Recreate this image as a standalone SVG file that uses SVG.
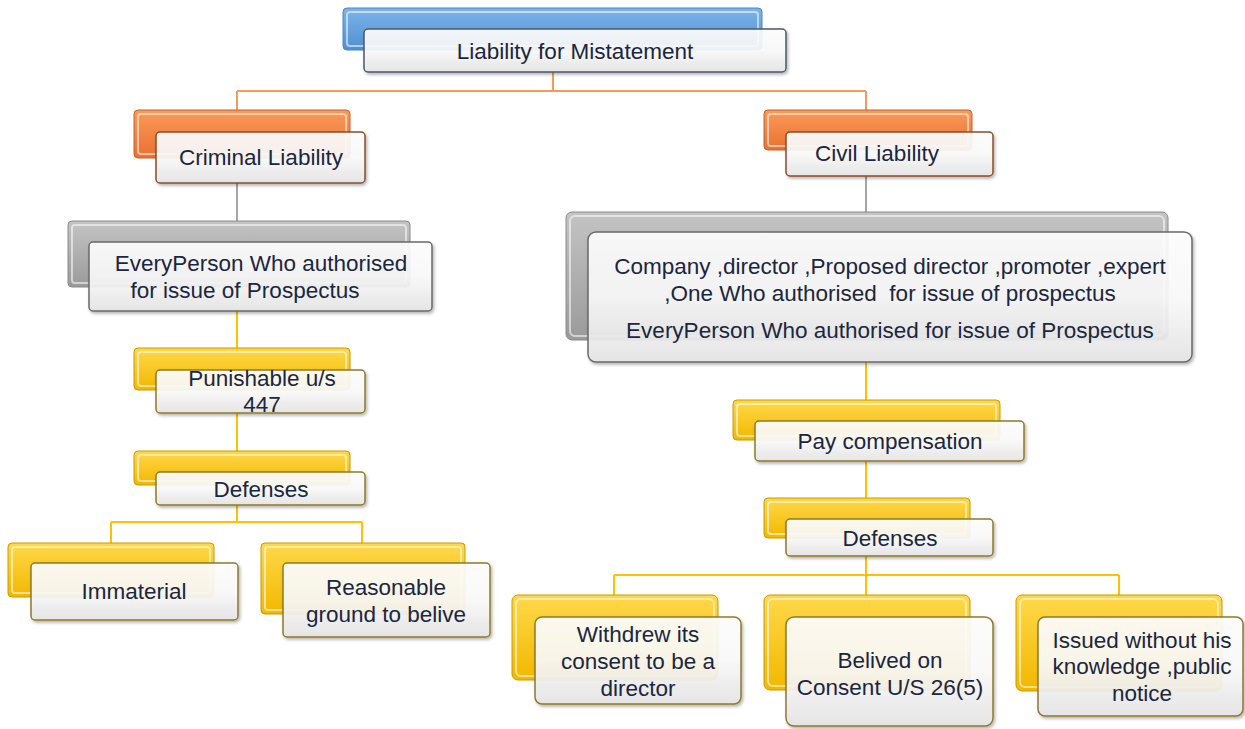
<svg xmlns="http://www.w3.org/2000/svg" width="1245" height="729" viewBox="0 0 1245 729">
<style>
  .t{font-family:"Liberation Sans",Arial,sans-serif;font-size:22.5px;fill:#1b2640;text-anchor:middle}
  .pre{white-space:pre}
  .front{fill:url(#gw);fill-opacity:0.9;stroke-width:1.5}
  .inner{fill:none;stroke:#ffffff;stroke-opacity:0.55;stroke-width:2}
  .cb{stroke:#f59a5a;stroke-width:2;fill:none}
  .cg{stroke:#a5a5a5;stroke-width:2;fill:none}
  .cy{stroke:#ffc000;stroke-width:2;fill:none}
  .blue{fill:url(#gb);stroke:#4f86c0}
  .orange{fill:url(#go);stroke:#c8602a}
  .gray{fill:url(#gg);stroke:#8a8a8a}
  .yellow{fill:url(#gy);stroke:#c99a00}
  .fb{stroke:#4a5a6e}
  .fo{stroke:#8b4e2a}
  .fg{stroke:#6a6a6a}
  .fy{stroke:#8f7a2a}
</style>
<defs>
  <linearGradient id="gw" x1="0" y1="0" x2="0" y2="1">
    <stop offset="0" stop-color="#ffffff"/><stop offset="0.5" stop-color="#fbfbfb"/><stop offset="1" stop-color="#e6e6e6"/>
  </linearGradient>
  <linearGradient id="gb" x1="0" y1="0" x2="0" y2="1">
    <stop offset="0" stop-color="#7db4ea"/><stop offset="1" stop-color="#4f8fd0"/>
  </linearGradient>
  <linearGradient id="go" x1="0" y1="0" x2="0" y2="1">
    <stop offset="0" stop-color="#fb9a5a"/><stop offset="1" stop-color="#ea7030"/>
  </linearGradient>
  <linearGradient id="gg" x1="0" y1="0" x2="0" y2="1">
    <stop offset="0" stop-color="#c4c4c4"/><stop offset="1" stop-color="#9a9a9a"/>
  </linearGradient>
  <linearGradient id="gy" x1="0" y1="0" x2="0" y2="1">
    <stop offset="0" stop-color="#ffd84a"/><stop offset="1" stop-color="#f2b800"/>
  </linearGradient>
  <filter id="sh" x="-10%" y="-10%" width="120%" height="130%">
    <feDropShadow dx="1.5" dy="2" stdDeviation="1.5" flood-color="#000" flood-opacity="0.3"/>
  </filter>
</defs>

<g id="connectors">
  <path class="cb" d="M553 72 V91 M237 91 H866 M237 91 V111 M866 91 V111"/>
  <path class="cg" d="M237 183 V221 M866 176 V212"/>
  <path class="cy" d="M237 311 V349 M237 413 V451 M237 505 V522 M111 522 H362 M111 522 V543 M362 522 V543"/>
  <path class="cy" d="M866 362 V400 M866 461 V498 M866 556 V575 M614 575 H1119 M614 575 V595 M866 575 V595 M1119 575 V595"/>
</g>

<g id="n-root">
  <rect class="blue" x="343" y="8" width="419" height="42" rx="4"/>
  <rect class="inner" x="347" y="12" width="411" height="34" rx="3"/>
  <rect class="front fb" x="364" y="29" width="422" height="43" rx="4" filter="url(#sh)"/>
  <text class="t" x="575" y="59">Liability for Mistatement</text>
</g>

<g id="n-criminal">
  <rect class="orange" x="134" y="110" width="216" height="48" rx="4"/>
  <rect class="inner" x="138" y="114" width="208" height="40" rx="3"/>
  <rect class="front fo" x="156" y="132" width="209" height="51" rx="4" filter="url(#sh)"/>
  <text class="t" x="261" y="165">Criminal Liability</text>
</g>

<g id="n-civil">
  <rect class="orange" x="764" y="110" width="208" height="40" rx="4"/>
  <rect class="inner" x="768" y="114" width="200" height="32" rx="3"/>
  <rect class="front fo" x="786" y="132" width="207" height="44" rx="4" filter="url(#sh)"/>
  <text class="t" x="877" y="161">Civil Liability</text>
</g>

<g id="n-everyperson">
  <rect class="gray" x="68" y="221" width="342" height="66" rx="4"/>
  <rect class="inner" x="72" y="225" width="334" height="58" rx="3"/>
  <rect class="front fg" x="89" y="242" width="343" height="69" rx="4" filter="url(#sh)"/>
  <text class="t" x="261" y="271">EveryPerson Who authorised</text>
  <text class="t" x="245" y="298">for issue of Prospectus</text>
</g>

<g id="n-persons">
  <rect class="gray" x="566" y="212" width="602" height="128" rx="6"/>
  <rect class="inner" x="570" y="216" width="594" height="120" rx="5"/>
  <rect class="front fg" x="588" y="232" width="604" height="130" rx="8" filter="url(#sh)"/>
  <text class="t" x="890" y="274">Company ,director ,Proposed director ,promoter ,expert</text>
  <text class="t pre" x="890" y="301">,One Who authorised  for issue of prospectus</text>
  <text class="t" x="890" y="338">EveryPerson Who authorised for issue of Prospectus</text>
</g>

<g id="n-punishable">
  <rect class="yellow" x="134" y="348" width="216" height="42" rx="4"/>
  <rect class="inner" x="138" y="352" width="208" height="34" rx="3"/>
  <rect class="front fy" x="156" y="370" width="209" height="43" rx="4" filter="url(#sh)"/>
  <text class="t" x="262" y="386">Punishable u/s</text>
  <text class="t" x="262" y="412">447</text>
</g>

<g id="n-defenses-left">
  <rect class="yellow" x="134" y="451" width="216" height="34" rx="4"/>
  <rect class="inner" x="138" y="455" width="208" height="26" rx="3"/>
  <rect class="front fy" x="156" y="472" width="209" height="33" rx="4" filter="url(#sh)"/>
  <text class="t" x="261" y="497">Defenses</text>
</g>

<g id="n-immaterial">
  <rect class="yellow" x="8" y="543" width="206" height="54" rx="4"/>
  <rect class="inner" x="12" y="547" width="198" height="46" rx="3"/>
  <rect class="front fy" x="31" y="563" width="207" height="57" rx="4" filter="url(#sh)"/>
  <text class="t" x="134" y="599">Immaterial</text>
</g>

<g id="n-reasonable">
  <rect class="yellow" x="261" y="543" width="204" height="71" rx="4"/>
  <rect class="inner" x="265" y="547" width="196" height="63" rx="3"/>
  <rect class="front fy" x="283" y="563" width="207" height="74" rx="4" filter="url(#sh)"/>
  <text class="t" x="386" y="595">Reasonable</text>
  <text class="t" x="386" y="622">ground to belive</text>
</g>

<g id="n-pay">
  <rect class="yellow" x="733" y="400" width="267" height="40" rx="4"/>
  <rect class="inner" x="737" y="404" width="259" height="32" rx="3"/>
  <rect class="front fy" x="755" y="421" width="269" height="40" rx="4" filter="url(#sh)"/>
  <text class="t" x="890" y="449">Pay compensation</text>
</g>

<g id="n-defenses-right">
  <rect class="yellow" x="764" y="498" width="206" height="40" rx="4"/>
  <rect class="inner" x="768" y="502" width="198" height="32" rx="3"/>
  <rect class="front fy" x="786" y="519" width="207" height="37" rx="4" filter="url(#sh)"/>
  <text class="t" x="890" y="546">Defenses</text>
</g>

<g id="n-withdrew">
  <rect class="yellow" x="512" y="595" width="206" height="85" rx="6"/>
  <rect class="inner" x="516" y="599" width="198" height="77" rx="5"/>
  <rect class="front fy" x="535" y="617" width="206" height="87" rx="7" filter="url(#sh)"/>
  <text class="t" x="638" y="642">Withdrew its</text>
  <text class="t" x="638" y="669">consent to be a</text>
  <text class="t" x="638" y="696">director</text>
</g>

<g id="n-belived">
  <rect class="yellow" x="764" y="595" width="206" height="95" rx="6"/>
  <rect class="inner" x="768" y="599" width="198" height="87" rx="5"/>
  <rect class="front fy" x="786" y="617" width="207" height="109" rx="8" filter="url(#sh)"/>
  <text class="t" x="890" y="668">Belived on</text>
  <text class="t" x="890" y="695">Consent U/S 26(5)</text>
</g>

<g id="n-issued">
  <rect class="yellow" x="1016" y="595" width="206" height="96" rx="6"/>
  <rect class="inner" x="1020" y="599" width="198" height="88" rx="5"/>
  <rect class="front fy" x="1038" y="617" width="205" height="99" rx="7" filter="url(#sh)"/>
  <text class="t" x="1142" y="648">Issued without his</text>
  <text class="t" x="1142" y="674">knowledge ,public</text>
  <text class="t" x="1142" y="701">notice</text>
</g>
</svg>
